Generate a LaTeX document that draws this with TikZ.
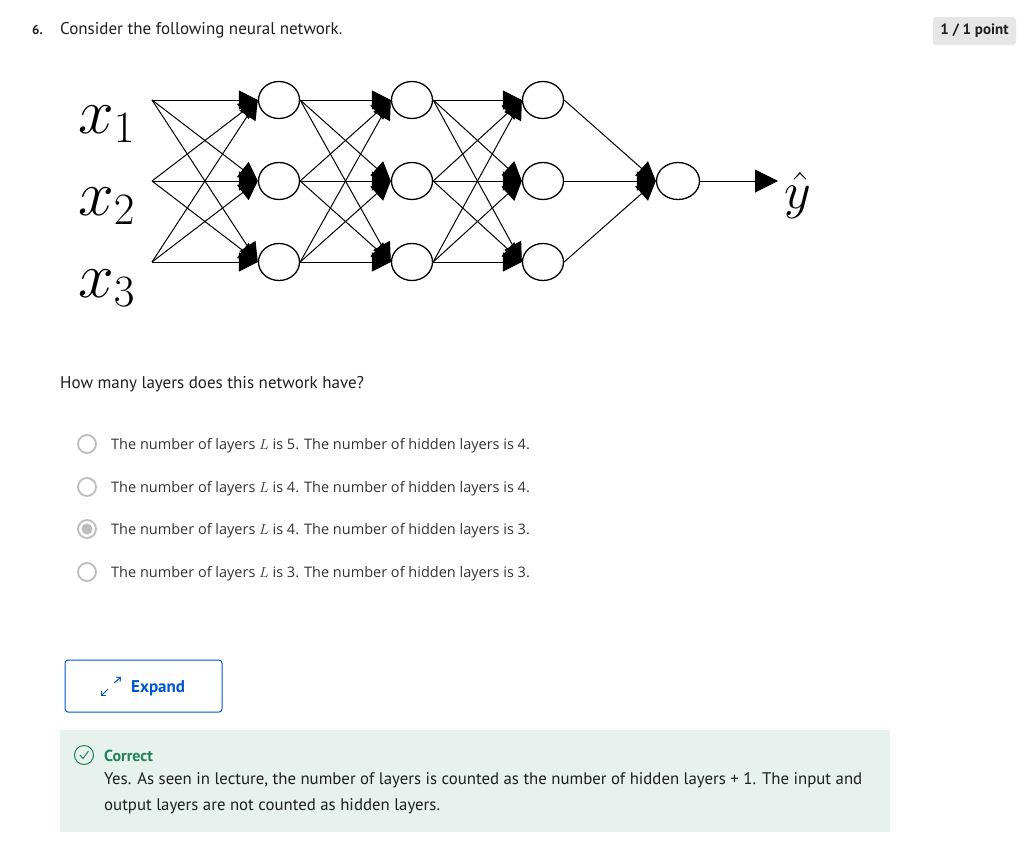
\RequirePackage{fix-cm}
\documentclass[tikz,border=0pt]{standalone}
\usepackage{fontspec}
\setmainfont{PT Sans}
\newfontfamily\optfont{Open Sans}
\usetikzlibrary{arrows.meta}
\usetikzlibrary{shapes.geometric}

\definecolor{txtdark}{HTML}{1F1F1F}
\definecolor{txtgray}{HTML}{333333}
\definecolor{radiogray}{HTML}{BDBDBD}
\definecolor{btnblue}{HTML}{0056D2}
\definecolor{okgreen}{HTML}{1F8354}
\definecolor{okfill}{HTML}{E7F1EE}
\definecolor{badgegray}{HTML}{E6E6E6}

\tikzset{
  neuron/.style={draw, ellipse, line width=1.3pt, minimum width=41pt, minimum height=37pt, inner sep=0pt},
  link/.style={line width=1pt, -{Triangle[length=19pt,width=19pt]}},
  radio/.style={circle, draw=radiogray, line width=1.8pt, minimum size=18pt, inner sep=0pt},
  opt/.style={anchor=base west, inner sep=0pt, text=txtgray, font=\optfont\fontsize{14.5}{16}\selectfont},
  para/.style={anchor=base west, inner sep=0pt, text=txtdark, font=\fontsize{17}{19}\selectfont},
  inlabel/.style={anchor=base west, inner sep=0pt, font=\fontsize{64}{68}\selectfont},
}

\begin{document}
\begin{tikzpicture}[x=1pt,y=-1pt]
\useasboundingbox (0,0) rectangle (1025,841);
\fill[white] (0,0) rectangle (1025,841);

% question header
\node[anchor=base west, inner sep=0pt, text=txtdark, font=\bfseries\fontsize{13}{15}\selectfont] (qnum) at (32,34) {6.};
\node[para] (qtext) at (60,34) {Consider the following neural network.};
\node[fill=badgegray, rounded corners=3pt, minimum width=83pt, minimum height=28pt, inner sep=0pt, text=txtdark, font=\bfseries\fontsize{15}{17}\selectfont] (badge) at (974.5,31) {1 / 1 point};

% inputs
\coordinate (in1) at (152,100);
\coordinate (in2) at (152,181);
\coordinate (in3) at (152,262);
\node[inlabel] (x1) at (78,133) {$x_1$};
\node[inlabel] (x2) at (78,215) {$x_2$};
\node[inlabel] (x3) at (78,297) {$x_3$};

% hidden layers and output
\node[neuron] (a1) at (279,100) {};
\node[neuron] (a2) at (279,181) {};
\node[neuron] (a3) at (279,262) {};
\node[neuron] (b1) at (412,100) {};
\node[neuron] (b2) at (412,181) {};
\node[neuron] (b3) at (412,262) {};
\node[neuron] (c1) at (543,100) {};
\node[neuron] (c2) at (543,181) {};
\node[neuron] (c3) at (543,262) {};
\node[neuron, minimum width=43pt] (o) at (678,181) {};
\node[anchor=base west, inner sep=0pt, font=\fontsize{52}{56}\selectfont] (yhat) at (784,208) {$\hat{y}$};
\coordinate (yin) at (778,181);

\draw[link] (in1) -- (a1.west);
\draw[link] (in1) -- (a2.west);
\draw[link] (in1) -- (a3.west);
\draw[link] (in2) -- (a1.west);
\draw[link] (in2) -- (a2.west);
\draw[link] (in2) -- (a3.west);
\draw[link] (in3) -- (a1.west);
\draw[link] (in3) -- (a2.west);
\draw[link] (in3) -- (a3.west);

\draw[link] (a1.east) -- (b1.west);
\draw[link] (a1.east) -- (b2.west);
\draw[link] (a1.east) -- (b3.west);
\draw[link] (a2.east) -- (b1.west);
\draw[link] (a2.east) -- (b2.west);
\draw[link] (a2.east) -- (b3.west);
\draw[link] (a3.east) -- (b1.west);
\draw[link] (a3.east) -- (b2.west);
\draw[link] (a3.east) -- (b3.west);

\draw[link] (b1.east) -- (c1.west);
\draw[link] (b1.east) -- (c2.west);
\draw[link] (b1.east) -- (c3.west);
\draw[link] (b2.east) -- (c1.west);
\draw[link] (b2.east) -- (c2.west);
\draw[link] (b2.east) -- (c3.west);
\draw[link] (b3.east) -- (c1.west);
\draw[link] (b3.east) -- (c2.west);
\draw[link] (b3.east) -- (c3.west);

\draw[link] (c1.east) -- (o.west);
\draw[link] (c2.east) -- (o.west);
\draw[link] (c3.east) -- (o.west);
\draw[line width=1pt, -{Triangle[length=23pt,width=23pt]}] (o.east) -- (yin);

% answer options
\node[para] (ask) at (60,388) {How many layers does this network have?};
\node[radio] (r1) at (87,444) {};
\node[radio] (r2) at (87,487) {};
\node[radio] (r3) at (87,529) {};
\node[radio] (r4) at (87,572) {};
\fill[radiogray] (r3) circle (5.5);
\node[opt] (o1) at (111,449) {The number of layers $L$ is 5. The number of hidden layers is 4.};
\node[opt] (o2) at (111,492) {The number of layers $L$ is 4. The number of hidden layers is 4.};
\node[opt] (o3) at (111,534) {The number of layers $L$ is 4. The number of hidden layers is 3.};
\node[opt] (o4) at (111,577) {The number of layers $L$ is 3. The number of hidden layers is 3.};

% expand button
\node[draw=btnblue, line width=1pt, rounded corners=3pt, minimum width=157pt, minimum height=52pt, inner sep=0pt] (expand) at (143.5,686) {};
\draw[btnblue, line width=1pt, {Straight Barb[length=3pt]}-] (101,696) -- (108,689);
\draw[btnblue, line width=1pt, -{Straight Barb[length=3pt]}] (114,683) -- (121,677);
\node[anchor=base west, inner sep=0pt, text=btnblue, font=\bfseries\fontsize{17}{19}\selectfont] (expandtxt) at (131,692) {Expand};

% feedback
\fill[okfill] (60,730) rectangle (890,832);
\node[circle, draw=okgreen, line width=1pt, minimum size=19pt, inner sep=0pt] (okmark) at (84,755) {};
\draw[okgreen, line width=1pt] (80,755) -- (83,758.5) -- (88.5,751);
\node[anchor=base west, inner sep=0pt, text=okgreen, font=\bfseries\fontsize{16}{19}\selectfont] (oktitle) at (104,761) {Correct};
\node[anchor=base west, inner sep=0pt, text=txtdark, font=\fontsize{16.8}{19}\selectfont] (okline1) at (104,784) {Yes. As seen in lecture, the number of layers is counted as the number of hidden layers + 1. The input and};
\node[anchor=base west, inner sep=0pt, text=txtdark, font=\fontsize{16.8}{19}\selectfont] (okline2) at (104,810) {output layers are not counted as hidden layers.};
\end{tikzpicture}
\end{document}
